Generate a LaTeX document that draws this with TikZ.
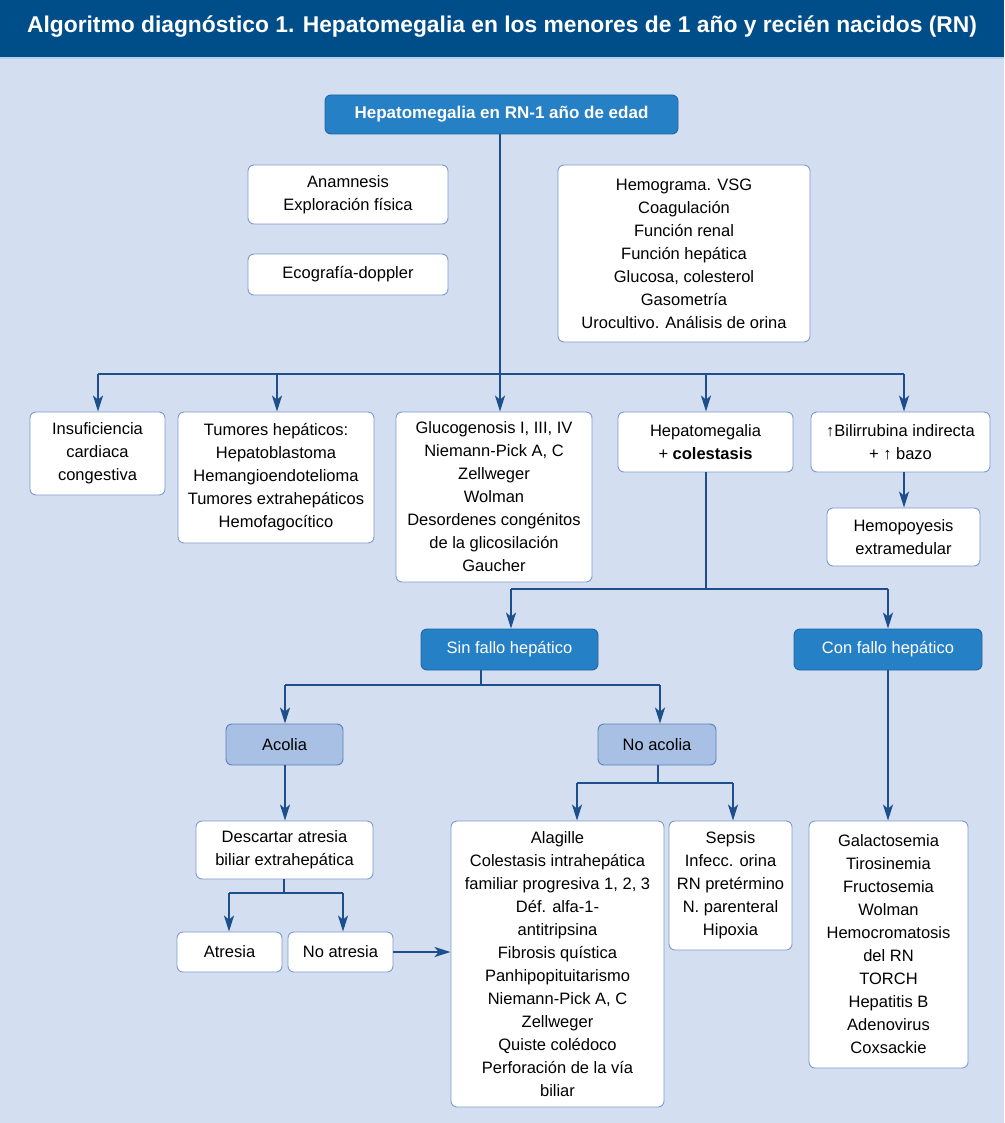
\documentclass[tikz,border=0pt]{standalone}
\usepackage{fontspec}
\setmainfont{Liberation Sans}
\usetikzlibrary{arrows.meta}
\definecolor{hdr}{HTML}{004E89}
\definecolor{strip}{HTML}{B5CCEA}
\definecolor{bg}{HTML}{D3DEF1}
\definecolor{dblue}{HTML}{2680C5}
\definecolor{dbord}{HTML}{1F66A3}
\definecolor{lblue}{HTML}{A8C0E4}
\definecolor{lbord}{HTML}{5A80B8}
\definecolor{wbord}{HTML}{7F9BCB}
\definecolor{linec}{HTML}{1D4F8C}
\newcommand\bx[7]{\node[#2, minimum width={#5-#3}, minimum height={#6-#4}] (#1) at ({(#3+#5)/2},{(#4+#6)/2}) {#7};}
\begin{document}
\begin{tikzpicture}[x=1pt,y=-1pt,
  base/.style={rounded corners=6pt, line width=0.9pt, align=center, inner sep=0pt, font=\fontsize{16.5}{23}\selectfont},
  wbox/.style={base, draw=wbord, fill=white},
  dbox/.style={base, draw=dbord, fill=dblue, text=white},
  lbox/.style={base, draw=lbord, fill=lblue},
  ln/.style={draw=linec, line width=1.8pt},
  arr/.style={ln, -{Stealth[length=16pt,width=10pt,inset=4pt]}}]
\useasboundingbox (0,0) rectangle (1004,1123);
\fill[bg] (0,0) rectangle (1004,1123);
\fill[hdr] (0,0) rectangle (1004,57);
\fill[strip] (0,57) rectangle (1004,59.5);
\node[text=white, font=\fontsize{22.8}{26}\selectfont\bfseries, inner sep=0pt] (title) at (502,27) {Algoritmo diagnóstico 1. Hepatomegalia en los menores de 1 año y recién nacidos (RN)};
% boxes
\bx{top}{dbox, font=\fontsize{17}{23}\selectfont\bfseries}{325}{95}{678}{134}{Hepatomegalia en RN-1 año de edad}
\bx{anam}{wbox}{248}{165}{448}{224}{Anamnesis\\Exploración física}
\bx{eco}{wbox}{248}{254}{448}{295}{Ecografía-doppler}
\bx{hemog}{wbox}{558}{165}{810}{342}{Hemograma. VSG\\Coagulación\\Función renal\\Función hepática\\Glucosa, colesterol\\Gasometría\\Urocultivo. Análisis de orina}
\bx{ins}{wbox}{30}{412}{165}{495}{Insuficiencia\\cardiaca\\congestiva}
\bx{tum}{wbox}{178}{412}{374}{543}{Tumores hepáticos:\\Hepatoblastoma\\Hemangioendotelioma\\Tumores extrahepáticos\\Hemofagocítico}
\bx{glu}{wbox}{396}{412}{592}{582}{Glucogenosis I, III, IV\\Niemann-Pick A, C\\Zellweger\\Wolman\\Desordenes congénitos\\de la glicosilación\\Gaucher}
\bx{hcol}{wbox}{618}{412}{793}{472}{Hepatomegalia\\+ \textbf{colestasis}}
\bx{bil}{wbox}{811}{412}{990}{472}{↑Bilirrubina indirecta\\+ ↑ bazo}
\bx{hemo}{wbox}{827}{508}{980}{566}{Hemopoyesis\\extramedular}
\bx{sin}{dbox}{421}{629}{598}{670}{Sin fallo hepático}
\bx{con}{dbox}{794}{629}{982}{670}{Con fallo hepático}
\bx{aco}{lbox}{226}{724}{343}{765}{Acolia}
\bx{noaco}{lbox}{598}{724}{716}{765}{No acolia}
\bx{desc}{wbox}{196}{821}{373}{879}{Descartar atresia\\biliar extrahepática}
\bx{atr}{wbox}{177}{932}{282}{972}{Atresia}
\bx{noatr}{wbox}{288}{932}{393}{972}{No atresia}
\bx{ala}{wbox}{451}{821}{664}{1107}{Alagille\\Colestasis intrahepática\\familiar progresiva 1, 2, 3\\Déf. alfa-1-\\antitripsina\\Fibrosis quística\\Panhipopituitarismo\\Niemann-Pick A, C\\Zellweger\\Quiste colédoco\\Perforación de la vía\\biliar}
\bx{sep}{wbox}{669}{821}{792}{950}{Sepsis\\Infecc. orina\\RN pretérmino\\N. parenteral\\Hipoxia}
\bx{gal}{wbox}{809}{821}{968}{1068}{Galactosemia\\Tirosinemia\\Fructosemia\\Wolman\\Hemocromatosis\\del RN\\TORCH\\Hepatitis B\\Adenovirus\\Coxsackie}
% connectors
\coordinate (j1) at (500,374);
\coordinate (a1) at (98,374);
\coordinate (a2) at (277,374);
\coordinate (a4) at (706,374);
\coordinate (a5) at (904,374);
\draw[ln] (j1 |- top.south) -- (j1);
\draw[ln] (a1) -- (a5);
\draw[arr] (a1) -- (a1 |- ins.north);
\draw[arr] (a2) -- (a2 |- tum.north);
\draw[arr] (j1) -- (j1 |- glu.north);
\draw[arr] (a4) -- (a4 |- hcol.north);
\draw[arr] (a5) -- (a5 |- bil.north);
\draw[arr] (a5 |- bil.south) -- (a5 |- hemo.north);
\coordinate (j2) at (706,589);
\coordinate (c1) at (511,589);
\coordinate (c2) at (888,589);
\draw[ln] (j2 |- hcol.south) -- (j2);
\draw[ln] (c1) -- (c2);
\draw[arr] (c1) -- (c1 |- sin.north);
\draw[arr] (c2) -- (c2 |- con.north);
\coordinate (j3) at (481,685);
\coordinate (d1) at (285,685);
\coordinate (d2) at (660,685);
\draw[ln] (j3 |- sin.south) -- (j3);
\draw[ln] (d1) -- (d2);
\draw[arr] (d1) -- (d1 |- aco.north);
\draw[arr] (d2) -- (d2 |- noaco.north);
\draw[arr] (d1 |- aco.south) -- (d1 |- desc.north);
\coordinate (j4) at (284,893);
\coordinate (e1) at (229,893);
\coordinate (e2) at (343,893);
\draw[ln] (j4 |- desc.south) -- (j4);
\draw[ln] (e1) -- (e2);
\draw[arr] (e1) -- (e1 |- atr.north);
\draw[arr] (e2) -- (e2 |- noatr.north);
\draw[arr] (noatr.east) -- (noatr.east -| ala.west);
\coordinate (j5) at (658,783);
\coordinate (f1) at (577,783);
\coordinate (f2) at (733,783);
\draw[ln] (j5 |- noaco.south) -- (j5);
\draw[ln] (f1) -- (f2);
\draw[arr] (f1) -- (f1 |- ala.north);
\draw[arr] (f2) -- (f2 |- sep.north);
\draw[arr] (c2 |- con.south) -- (c2 |- gal.north);
\end{tikzpicture}
\end{document}
